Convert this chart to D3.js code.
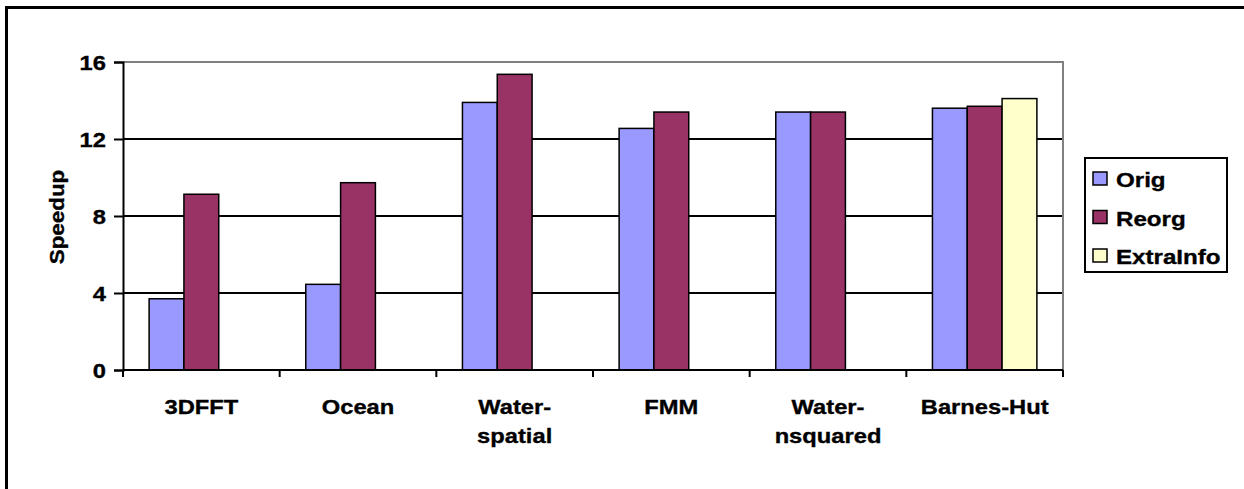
<!DOCTYPE html>
<html>
<head>
<meta charset="utf-8">
<script src="https://cdn.jsdelivr.net/npm/d3@7"></script>
<style>
  html, body { margin: 0; padding: 0; background: #fff; }
  svg { display: block; }
  text { font-family: "Liberation Sans", Arial, sans-serif; font-weight: bold; fill: #000; stroke: #000; stroke-width: 0.35px; }
</style>
</head>
<body>
<svg id="chart" width="1244" height="489"></svg>
<script>
// Benchmarks on the x axis, one label line per array entry
const categories = ["3DFFT", "Ocean", "Water-spatial", "FMM", "Water-nsquared", "Barnes-Hut"];
const categoryLines = [["3DFFT"], ["Ocean"], ["Water-", "spatial"], ["FMM"], ["Water-", "nsquared"], ["Barnes-Hut"]];

// Speedup per benchmark for each version (null = not measured)
const seriesNames = ["Orig", "Reorg", "ExtraInfo"];
const origValues = [3.7, 4.45, 13.9, 12.55, 13.4, 13.6];
const reorgValues = [9.13, 9.73, 15.36, 13.4, 13.4, 13.7];
const extraInfoValues = [null, null, null, null, null, 14.1];
const seriesColors = ["#9999FF", "#993366", "#FFFFCC"];

const yTicks = [0, 4, 8, 12, 16];
const yTitle = "Speedup";

const seriesValues = [origValues, reorgValues, extraInfoValues];
const rows = categories.map((c, i) => ({
  category: c,
  values: seriesNames.map((s, j) => ({ series: s, value: seriesValues[j][i] }))
}));

const svg = d3.select("#chart");
const plot = { left: 123, right: 1063, top: 62, bottom: 370 };
const fontSize = 21;
const stretch = 1.13;   // horizontal widening of the bold labels

// Outer chart frame (runs off the right and bottom edges)
svg.append("rect")
  .attr("x", 6.5).attr("y", 7.5)
  .attr("width", 1300).attr("height", 600)
  .attr("fill", "none").attr("stroke", "#000").attr("stroke-width", 3);

const x = d3.scaleBand().domain(categories).range([plot.left, plot.right]).padding(0);
const xInner = d3.scaleBand().domain(seriesNames).range([0, x.bandwidth()])
  .paddingInner(0).paddingOuter(0.75);
const y = d3.scaleLinear().domain([0, 16]).range([plot.bottom, plot.top]);

// Horizontal gridlines
svg.append("g").selectAll("line")
  .data(yTicks.filter(t => t > 0 && t < 16))
  .join("line")
  .attr("x1", plot.left).attr("x2", plot.right)
  .attr("y1", d => y(d)).attr("y2", d => y(d))
  .attr("stroke", "#000").attr("stroke-width", 2);

// Plot-area border: grey top and right edges
svg.append("path")
  .attr("d", `M${plot.left},${y(16)}H${plot.right}V${plot.bottom}`)
  .attr("fill", "none").attr("stroke", "#808080").attr("stroke-width", 2);

// Bars
const groups = svg.append("g").selectAll("g")
  .data(rows).join("g")
  .attr("transform", d => `translate(${x(d.category)},0)`);

groups.selectAll("rect")
  .data(d => d.values.filter(v => v.value != null))
  .join("rect")
  .attr("x", d => xInner(d.series))
  .attr("width", xInner.bandwidth())
  .attr("y", d => y(d.value))
  .attr("height", d => y(0) - y(d.value))
  .attr("fill", d => seriesColors[seriesNames.indexOf(d.series)])
  .attr("stroke", "#000").attr("stroke-width", 1.5);

// Y axis
const yAxis = svg.append("g")
  .attr("transform", `translate(${plot.left},0)`)
  .call(d3.axisLeft(y).tickValues(yTicks).tickSize(9).tickPadding(0).tickFormat(d3.format("d")));
yAxis.attr("font-size", null).attr("font-family", null);
yAxis.select(".domain").attr("stroke", "#000").attr("stroke-width", 2);
yAxis.selectAll(".tick line").attr("stroke", "#000").attr("stroke-width", 2);
yAxis.selectAll(".tick text")
  .attr("x", null).attr("dy", null)
  .attr("transform", `translate(-17,7.5) scale(${stretch},1)`)
  .attr("font-size", fontSize)
  .attr("text-anchor", "end");

// X axis line with ticks at category boundaries
svg.append("line")
  .attr("x1", plot.left).attr("x2", plot.right)
  .attr("y1", plot.bottom).attr("y2", plot.bottom)
  .attr("stroke", "#000").attr("stroke-width", 2);
const boundaries = categories.map(c => x(c)).concat([x.range()[1]]);
svg.append("g").selectAll("line")
  .data(boundaries).join("line")
  .attr("x1", d => d).attr("x2", d => d)
  .attr("y1", plot.bottom).attr("y2", plot.bottom + 7)
  .attr("stroke", "#000").attr("stroke-width", 2);

// Category labels
const labels = svg.append("g").selectAll("text")
  .data(categories.map((c, i) => ({ c, lines: categoryLines[i] })))
  .join("text")
  .attr("font-size", fontSize)
  .attr("text-anchor", "middle")
  .attr("transform", d => `translate(${x(d.c) + x.bandwidth() / 2},414) scale(${stretch},1)`);
labels.selectAll("tspan")
  .data(d => d.lines)
  .join("tspan")
  .attr("x", 0)
  .attr("y", (d, i) => i * 29)
  .text(d => d);

// Y axis title
svg.append("text")
  .attr("font-size", 20)
  .attr("text-anchor", "middle")
  .attr("transform", `translate(64,${(plot.top + plot.bottom) / 2 + 1}) rotate(-90) scale(1.12,1)`)
  .text(yTitle);

// Legend
const legend = svg.append("g").attr("transform", "translate(1085,158)");
legend.append("rect")
  .attr("width", 142).attr("height", 114)
  .attr("fill", "#fff").attr("stroke", "#000").attr("stroke-width", 2);
const items = legend.selectAll("g.item")
  .data(seriesNames).join("g")
  .attr("class", "item")
  .attr("transform", (d, i) => `translate(0,${14 + i * 38.5})`);
items.append("rect")
  .attr("x", 8).attr("y", 0).attr("width", 14).attr("height", 13)
  .attr("fill", (d, i) => seriesColors[i])
  .attr("stroke", "#000").attr("stroke-width", 1.5);
items.append("text")
  .attr("font-size", fontSize)
  .attr("transform", `translate(31,15) scale(1.15,1)`)
  .text(d => d);
</script>
</body>
</html>
